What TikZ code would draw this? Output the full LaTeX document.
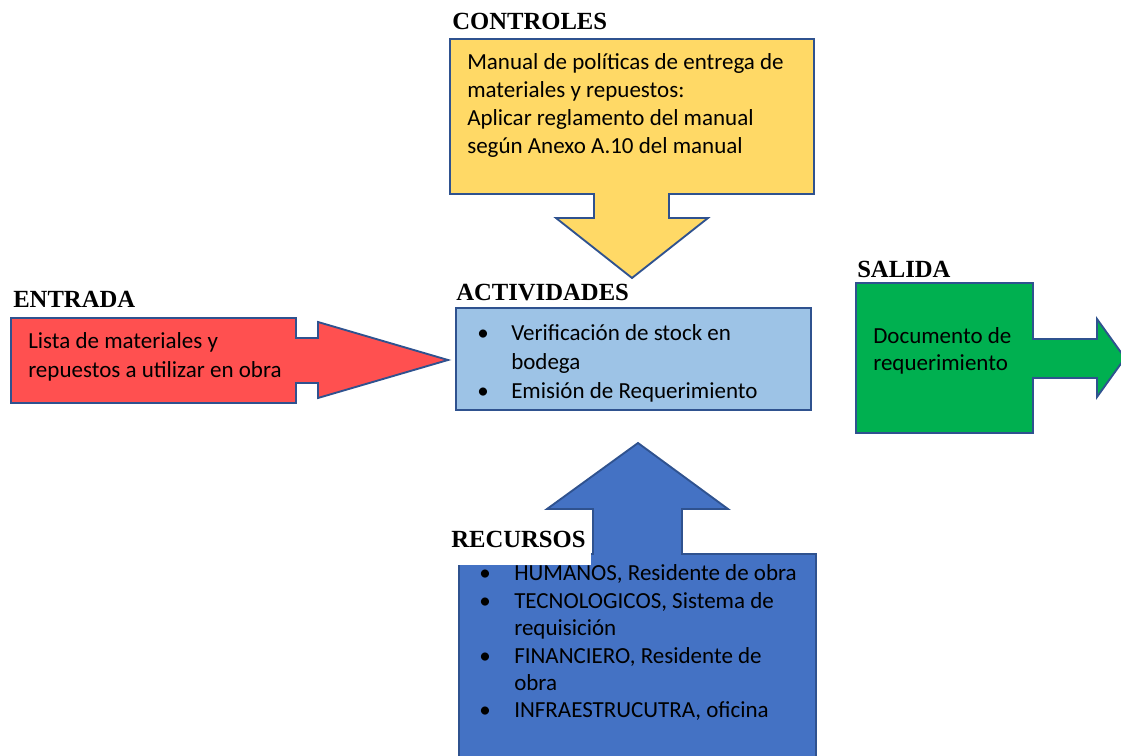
\documentclass[tikz,border=0pt]{standalone}
\usepackage{fontspec}
\setmainfont{Carlito}
\newfontfamily\headfont{Liberation Serif}
\definecolor{outl}{HTML}{2F528F}
\definecolor{ctlfill}{HTML}{FFD966}
\definecolor{infill}{HTML}{FF5050}
\definecolor{actfill}{HTML}{9DC3E6}
\definecolor{outfill}{HTML}{00B050}
\definecolor{resfill}{HTML}{4472C4}
\begin{document}
\begin{tikzpicture}[x=0.75pt,y=-0.75pt,
  blockshape/.style={draw=outl, line width=1.4pt, line join=miter},
  body/.style={anchor=base west, inner sep=0pt, font=\fontsize{17.25}{21}\selectfont},
  head/.style={anchor=base west, inner sep=0pt, font=\headfont\bfseries\fontsize{18.5}{21}\selectfont},
  dot/.style={anchor=base west, inner sep=0pt, font=\fontsize{17.25}{21}\selectfont}]
\clip (0,0) rectangle (1121,756);
\fill[white] (0,0) rectangle (1121,756);

% CONTROLES: box with downward arrow
\filldraw[blockshape, fill=ctlfill]
  (450,39) -- (814,39) -- (814,194) -- (669,194) -- (669,218) -- (708,218)
  -- (632,278) -- (556,218) -- (594,218) -- (594,194) -- (450,194) -- cycle;
\node[head] (ctlhead) at (452,30) {CONTROLES};
\node[body] (ctl1) at (467,70) {Manual de políticas de entrega de};
\node[body] (ctl2) at (467,98) {materiales y repuestos:};
\node[body] (ctl3) at (467,126) {Aplicar reglamento del manual};
\node[body] (ctl4) at (467,154) {según Anexo A.10 del manual};

% ENTRADA: box with right arrow
\filldraw[blockshape, fill=infill]
  (11,318) -- (296,318) -- (296,338) -- (318,338) -- (318,322) -- (448,360)
  -- (318,398) -- (318,383) -- (296,383) -- (296,403) -- (11,403) -- cycle;
\node[head] (inhead) at (13,307) {ENTRADA};
\node[body] (in1) at (28,348) {Lista de materiales y};
\node[body] (in2) at (28,377) {repuestos a utilizar en obra};

% ACTIVIDADES
\filldraw[blockshape, fill=actfill] (456,308) rectangle (811,410);
\node[head] (acthead) at (456,300) {ACTIVIDADES};
\node[dot] (actb1) at (477,340) {•};
\node[body] (act1) at (511,340) {Verificación de stock en};
\node[body] (act2) at (511,369) {bodega};
\node[dot] (actb2) at (477,398) {•};
\node[body] (act3) at (511,398) {Emisión de Requerimiento};

% SALIDA: box with right arrow
\filldraw[blockshape, fill=outfill]
  (856,283) -- (1033,283) -- (1033,339) -- (1097,339) -- (1097,319) -- (1125,358)
  -- (1097,397) -- (1097,378) -- (1033,378) -- (1033,433) -- (856,433) -- cycle;
\node[head] (outhead) at (857,277) {SALIDA};
\node[body] (out1) at (873,343) {Documento de};
\node[body] (out2) at (873,370) {requerimiento};

% RECURSOS: box with upward arrow
\filldraw[blockshape, fill=resfill]
  (459,770) -- (459,554) -- (593,554) -- (593,509) -- (547,509) -- (638,443)
  -- (728,509) -- (682,509) -- (682,554) -- (816,554) -- (816,770);
\fill[white] (440,518) rectangle (591,565);
\node[head] (reshead) at (451,547) {RECURSOS};
\node[dot] (resb1) at (479,580) {•};
\node[body] (res1) at (514,580) {HUMANOS, Residente de obra};
\node[dot] (resb2) at (479,608) {•};
\node[body] (res2) at (514,608) {TECNOLOGICOS, Sistema de};
\node[body] (res3) at (514,635) {requisición};
\node[dot] (resb3) at (479,663) {•};
\node[body] (res4) at (514,663) {FINANCIERO, Residente de};
\node[body] (res5) at (514,690) {obra};
\node[dot] (resb4) at (479,717) {•};
\node[body] (res6) at (514,717) {INFRAESTRUCUTRA, oficina};
\end{tikzpicture}
\end{document}
